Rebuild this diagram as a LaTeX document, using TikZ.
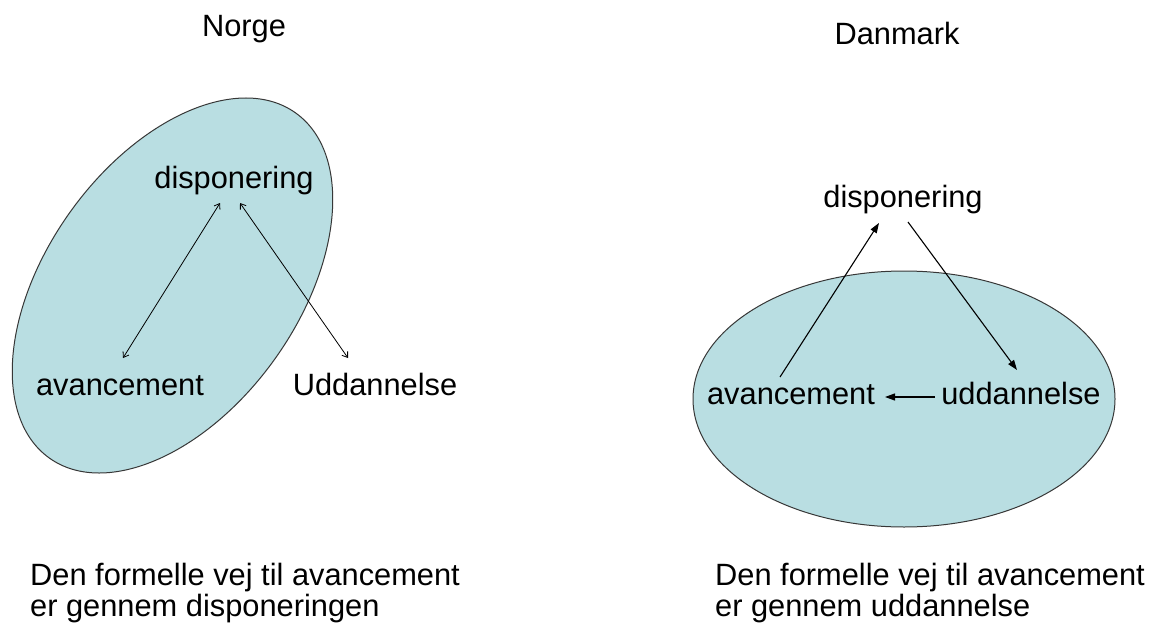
\documentclass[tikz,border=0pt]{standalone}
\usepackage{fontspec}
\setmainfont{Liberation Sans}
\usetikzlibrary{arrows.meta}
\definecolor{ellfill}{RGB}{185,222,226}
\definecolor{ellline}{RGB}{55,55,55}
\begin{document}
\begin{tikzpicture}[x=1pt,y=-1pt,
  every node/.style={inner sep=0pt, font=\fontsize{30.8}{31}\selectfont},
  term/.style={anchor=base},
  caption/.style={anchor=base west},
  region/.style={draw=ellline, line width=1pt, fill=ellfill},
  twoway/.style={line width=0.8pt, {Straight Barb[length=5pt,width=7pt]}-{Straight Barb[length=5pt,width=7pt]}},
  oneway/.style={line width=1.1pt, -{Triangle[length=10pt,width=7pt]}}]
\fill[white] (0,0) rectangle (1159,626);
\useasboundingbox (0,0) rectangle (1159,626);

% Norge: tilted ellipse
\draw[region, shift={(172.5,285.5)}, rotate=54.5] (0,0) ellipse [x radius=212pt, y radius=126pt];
% Danmark: flat ellipse
\draw[region] (904,399) ellipse [x radius=211pt, y radius=128pt];

% titles
\node[term] (norge) at (244,37) {Norge};
\node[term] (danmark) at (897,45) {Danmark};

% Norge terms
\node[term] (dispL) at (234,188) {disponering};
\node[term] (avL) at (120,395) {avancement};
\node[term] (uddL) at (375,395) {Uddannelse};

\draw[twoway] ([shift={(-14,15)}]dispL.base) -- ([shift={(3,-37)}]avL.base);
\draw[twoway] ([shift={(6,15)}]dispL.base) -- ([shift={(-27,-37)}]uddL.base);

% Danmark terms
\node[term] (dispR) at (903,207) {disponering};
\node[term] (avR) at (791,404) {avancement};
\node[term] (uddR) at (1021,404) {uddannelse};

\draw[oneway] ([shift={(-11,-27)}]avR.base) -- ([shift={(-24,16)}]dispR.base);
\draw[oneway] ([shift={(5,15)}]dispR.base) -- ([shift={(-4,-34)}]uddR.base);
\draw[oneway] ([shift={(-86,-7)}]uddR.base) -- ([shift={(94,-7)}]avR.base);

% captions
\node[caption] (capL1) at (30,585) {Den formelle vej til avancement};
\node[caption] (capL2) at (30,616) {er gennem disponeringen};
\node[caption] (capR1) at (715,585) {Den formelle vej til avancement};
\node[caption] (capR2) at (715,616) {er gennem uddannelse};
\end{tikzpicture}
\end{document}
